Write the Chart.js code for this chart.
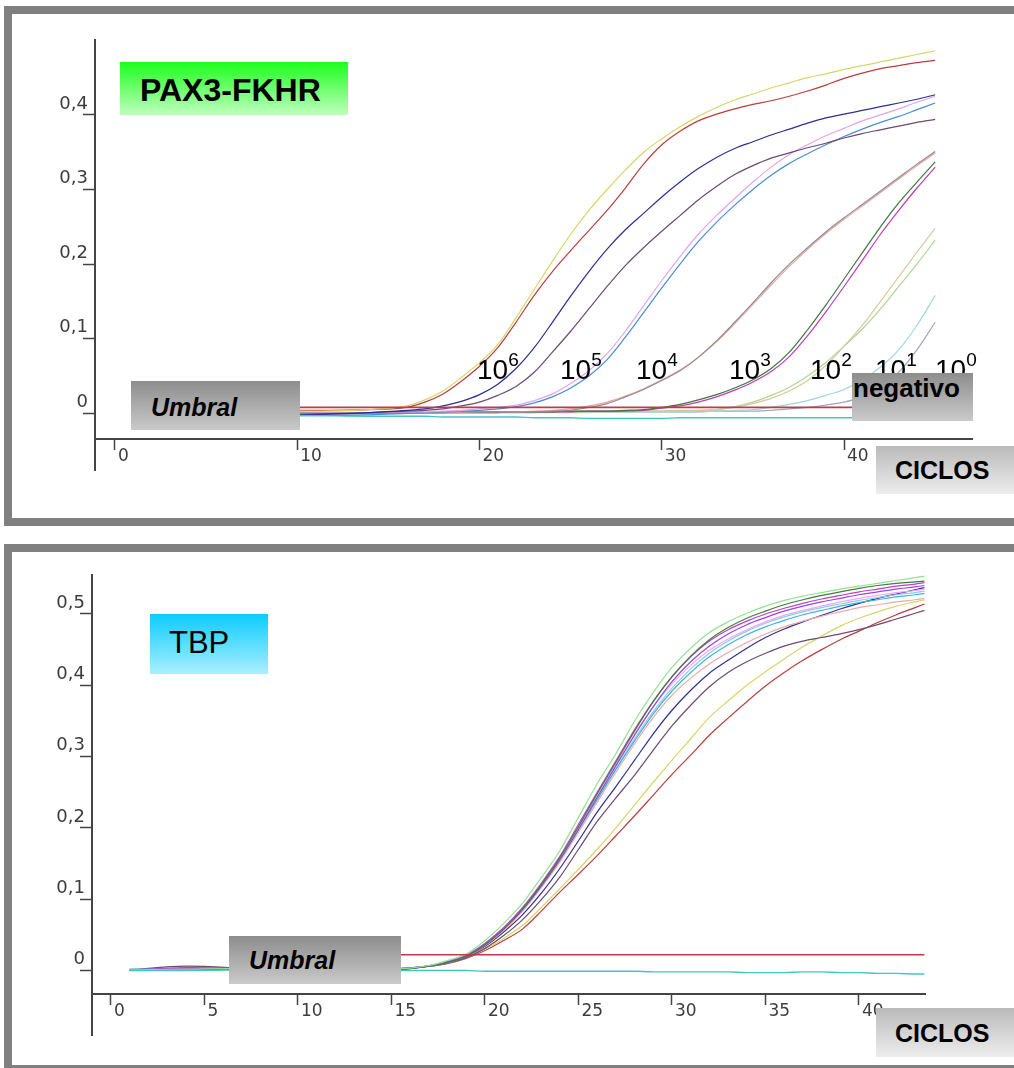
<!DOCTYPE html>
<html>
<head>
<meta charset="utf-8">
<script src="https://cdn.jsdelivr.net/npm/chart.js@4.4.1/dist/chart.umd.min.js"></script>
<style>
body{margin:0;width:1014px;height:1068px;overflow:hidden;background:#fff;position:relative;font-family:"Liberation Sans",Arial,sans-serif}
.panel{position:absolute;left:4px;width:1040px;border:8px solid #808080;box-sizing:border-box}
canvas{position:absolute;left:0}
.caja{position:absolute;box-sizing:border-box;white-space:nowrap;color:#000}
.gris{background:linear-gradient(#8d8d8d,#cacaca)}
.claro{background:linear-gradient(#bababa,#ededed)}
.exp{position:absolute;top:356px;font-size:28px;line-height:28px;color:#000;white-space:nowrap}
.exp span{font-size:19px;position:relative;top:-13px}
</style>
</head>
<body>
<div class="panel" style="top:6px;height:520px"></div>
<div class="panel" style="top:544px;height:529px"></div>

<canvas id="pax" width="1014" height="520" style="top:0"></canvas>
<canvas id="tbp" width="1014" height="520" style="top:540px"></canvas>

<div class="caja" style="left:120px;top:62px;width:228px;height:53px;line-height:57px;padding-left:20px;font-size:32px;font-weight:bold;background:linear-gradient(#1cff1c,#bfffbf)">PAX3-FKHR</div>
<div class="caja gris" style="left:131px;top:381px;width:169px;height:49px;line-height:52px;padding-left:20px;font-size:25px;font-weight:bold;font-style:italic">Umbral</div>
<div class="exp" style="left:477px">10<span>6</span></div>
<div class="exp" style="left:560px">10<span>5</span></div>
<div class="exp" style="left:636px">10<span>4</span></div>
<div class="exp" style="left:729px">10<span>3</span></div>
<div class="exp" style="left:810px">10<span>2</span></div>
<div class="exp" style="left:875px">10<span>1</span></div>
<div class="exp" style="left:935px">10<span>0</span></div>
<div class="caja gris" style="left:852px;top:373px;width:121px;height:48px;line-height:30px;padding-left:1px;font-size:26px;font-weight:bold">negativo</div>
<div class="caja claro" style="left:876px;top:446px;width:138px;height:48px;line-height:49px;padding-left:19px;font-size:25px;font-weight:bold">CICLOS</div>

<div class="caja" style="left:150px;top:614px;width:118px;height:60px;line-height:58px;padding-left:19px;font-size:31px;background:linear-gradient(#0cccff,#aaefff)">TBP</div>
<div class="caja gris" style="left:229px;top:936px;width:172px;height:48px;line-height:49px;padding-left:20px;font-size:25px;font-weight:bold;font-style:italic">Umbral</div>
<div class="caja claro" style="left:876px;top:1008px;width:138px;height:49px;line-height:50px;padding-left:19px;font-size:25px;font-weight:bold">CICLOS</div>

<script>
// ---- PAX3-FKHR: ciclos y fluorescencia de cada dilucion (dos replicas) ----
var ciclosPax = [1, 5, 10, 14, 16, 17, 18, 19, 20, 21, 22, 23, 24, 25, 26, 27, 28, 29, 30, 31, 32, 33, 34, 35, 36, 37, 38, 39, 40, 41, 42, 43, 44, 45];

var pax6a = [0.002, 0.003, 0.003, 0.005, 0.010, 0.018, 0.030, 0.048, 0.068, 0.092, 0.128, 0.166, 0.204, 0.240, 0.272, 0.300, 0.326, 0.350, 0.368, 0.384, 0.398, 0.410, 0.420, 0.428, 0.436, 0.443, 0.450, 0.455, 0.461, 0.466, 0.471, 0.476, 0.481, 0.486];
var pax6b = [0.004, 0.004, 0.004, 0.005, 0.008, 0.015, 0.026, 0.043, 0.063, 0.088, 0.122, 0.158, 0.190, 0.218, 0.245, 0.272, 0.302, 0.334, 0.360, 0.378, 0.392, 0.401, 0.408, 0.414, 0.419, 0.425, 0.432, 0.440, 0.449, 0.456, 0.462, 0.466, 0.470, 0.473];
var pax5a = [-0.003, -0.003, -0.002, 0.001, 0.004, 0.006, 0.010, 0.016, 0.025, 0.039, 0.060, 0.088, 0.122, 0.157, 0.190, 0.220, 0.246, 0.268, 0.290, 0.310, 0.328, 0.343, 0.355, 0.364, 0.373, 0.381, 0.389, 0.396, 0.401, 0.406, 0.411, 0.416, 0.421, 0.427];
var pax5b = [-0.002, -0.002, -0.001, 0.001, 0.003, 0.004, 0.006, 0.010, 0.015, 0.024, 0.036, 0.055, 0.082, 0.110, 0.140, 0.170, 0.198, 0.222, 0.244, 0.265, 0.286, 0.304, 0.320, 0.332, 0.342, 0.349, 0.356, 0.362, 0.369, 0.375, 0.380, 0.385, 0.390, 0.394];
var pax4a = [-0.004, -0.004, -0.003, -0.002, 0.000, 0.001, 0.002, 0.003, 0.004, 0.006, 0.009, 0.014, 0.022, 0.034, 0.050, 0.072, 0.102, 0.135, 0.168, 0.200, 0.230, 0.256, 0.279, 0.300, 0.319, 0.335, 0.348, 0.360, 0.371, 0.381, 0.390, 0.398, 0.407, 0.416];
var pax4b = [-0.001, -0.001, 0.000, 0.001, 0.002, 0.002, 0.003, 0.004, 0.006, 0.008, 0.011, 0.017, 0.026, 0.040, 0.057, 0.080, 0.110, 0.144, 0.178, 0.210, 0.240, 0.265, 0.288, 0.310, 0.330, 0.347, 0.360, 0.372, 0.382, 0.392, 0.400, 0.408, 0.417, 0.425];
var pax3a = [0.001, 0.001, 0.001, 0.000, 0.001, 0.001, 0.002, 0.002, 0.002, 0.002, 0.002, 0.002, 0.003, 0.004, 0.008, 0.013, 0.022, 0.032, 0.044, 0.057, 0.075, 0.097, 0.122, 0.148, 0.175, 0.200, 0.222, 0.243, 0.262, 0.280, 0.298, 0.316, 0.334, 0.351];
var pax3b = [-0.002, -0.002, -0.001, 0.000, 0.000, 0.001, 0.001, 0.001, 0.002, 0.002, 0.002, 0.003, 0.004, 0.006, 0.010, 0.015, 0.023, 0.033, 0.045, 0.058, 0.075, 0.096, 0.120, 0.146, 0.172, 0.197, 0.220, 0.241, 0.260, 0.278, 0.296, 0.314, 0.332, 0.349];
var pax2a = [0.000, -0.001, 0.000, 0.001, 0.001, 0.001, 0.001, 0.002, 0.002, 0.002, 0.002, 0.002, 0.002, 0.003, 0.003, 0.003, 0.004, 0.005, 0.008, 0.012, 0.018, 0.025, 0.034, 0.045, 0.060, 0.082, 0.112, 0.145, 0.180, 0.215, 0.250, 0.282, 0.310, 0.337];
var pax2b = [-0.002, -0.002, -0.001, 0.000, 0.000, 0.001, 0.001, 0.001, 0.001, 0.001, 0.002, 0.002, 0.002, 0.002, 0.003, 0.003, 0.003, 0.004, 0.007, 0.010, 0.015, 0.022, 0.031, 0.042, 0.056, 0.076, 0.104, 0.136, 0.170, 0.205, 0.240, 0.272, 0.302, 0.330];
var pax1a = [0.001, 0.001, 0.002, 0.001, 0.001, 0.001, 0.002, 0.002, 0.002, 0.002, 0.002, 0.002, 0.002, 0.002, 0.002, 0.002, 0.002, 0.003, 0.003, 0.003, 0.004, 0.005, 0.008, 0.013, 0.020, 0.030, 0.044, 0.064, 0.090, 0.118, 0.150, 0.183, 0.216, 0.248];
var pax1b = [-0.001, -0.001, 0.000, 0.000, 0.001, 0.001, 0.001, 0.001, 0.001, 0.001, 0.002, 0.002, 0.002, 0.002, 0.002, 0.002, 0.003, 0.003, 0.003, 0.004, 0.004, 0.005, 0.009, 0.015, 0.024, 0.035, 0.050, 0.068, 0.090, 0.113, 0.140, 0.170, 0.200, 0.232];
var pax0a = [-0.002, -0.002, -0.001, -0.001, 0.000, 0.000, 0.000, 0.001, 0.001, 0.001, 0.001, 0.001, 0.001, 0.001, 0.001, 0.002, 0.002, 0.002, 0.002, 0.002, 0.002, 0.003, 0.004, 0.005, 0.008, 0.012, 0.017, 0.024, 0.032, 0.045, 0.062, 0.085, 0.118, 0.158];
var pax0b = [0.000, 0.000, 0.000, 0.001, 0.001, 0.001, 0.001, 0.001, 0.001, 0.001, 0.001, 0.001, 0.002, 0.002, 0.002, 0.002, 0.002, 0.002, 0.002, 0.002, 0.002, 0.003, 0.003, 0.003, 0.004, 0.006, 0.008, 0.011, 0.015, 0.022, 0.035, 0.055, 0.085, 0.122];
var paxNeg = [-0.002, -0.003, -0.003, -0.004, -0.004, -0.004, -0.005, -0.005, -0.005, -0.005, -0.005, -0.006, -0.006, -0.006, -0.007, -0.007, -0.007, -0.007, -0.007, -0.006, -0.006, -0.006, -0.006, -0.006, -0.006, -0.006, -0.006, -0.006, -0.006, -0.006, -0.006, -0.006, -0.006, -0.006];
var umbralCiclosPax = [1, 45];
var umbralPax = [0.008, 0.008];

var xTicksPax = [0, 10, 20, 30, 40];
var xLabelsPax = ['0', '10', '20', '30', '40'];
var yTicksPax = [0, 0.1, 0.2, 0.3, 0.4];
var yLabelsPax = ['0', '0,1', '0,2', '0,3', '0,4'];

// ---- TBP (gen control) ----
var ciclosTbp = [1, 4, 8, 12, 15, 17, 18, 19, 20, 21, 22, 23, 24, 25, 26, 27, 28, 29, 30, 31, 32, 33, 34, 35, 36, 37, 38, 39, 40, 41, 42, 43, 43.5];

var tbpVerdeClaro = [0.001, 0.002, 0.003, 0.002, 0.002, 0.007, 0.014, 0.023, 0.042, 0.066, 0.094, 0.130, 0.168, 0.215, 0.262, 0.304, 0.350, 0.390, 0.425, 0.452, 0.474, 0.489, 0.501, 0.511, 0.519, 0.525, 0.530, 0.535, 0.539, 0.543, 0.547, 0.551, 0.553];
var tbpMagenta = [0.000, 0.003, 0.002, 0.001, 0.002, 0.006, 0.012, 0.021, 0.038, 0.060, 0.088, 0.122, 0.160, 0.205, 0.250, 0.294, 0.338, 0.378, 0.412, 0.440, 0.462, 0.478, 0.490, 0.500, 0.508, 0.515, 0.521, 0.526, 0.531, 0.535, 0.539, 0.542, 0.544];
var tbpVerde = [0.001, 0.001, 0.002, 0.002, 0.001, 0.006, 0.012, 0.020, 0.036, 0.058, 0.086, 0.120, 0.158, 0.202, 0.248, 0.292, 0.336, 0.377, 0.412, 0.441, 0.464, 0.481, 0.494, 0.504, 0.513, 0.520, 0.526, 0.531, 0.536, 0.540, 0.543, 0.545, 0.546];
var tbpVioleta = [0.000, 0.004, 0.003, 0.002, 0.002, 0.006, 0.011, 0.020, 0.036, 0.058, 0.085, 0.118, 0.155, 0.198, 0.243, 0.287, 0.330, 0.370, 0.405, 0.433, 0.455, 0.472, 0.485, 0.495, 0.504, 0.511, 0.517, 0.522, 0.527, 0.531, 0.535, 0.538, 0.540];
var tbpRosa = [0.001, 0.001, 0.002, 0.001, 0.002, 0.006, 0.012, 0.021, 0.037, 0.059, 0.086, 0.120, 0.157, 0.200, 0.245, 0.289, 0.332, 0.370, 0.402, 0.428, 0.449, 0.465, 0.478, 0.489, 0.498, 0.505, 0.511, 0.517, 0.522, 0.526, 0.530, 0.533, 0.535];
var tbpCian = [0.002, 0.001, 0.002, 0.001, 0.002, 0.007, 0.013, 0.022, 0.038, 0.060, 0.087, 0.120, 0.156, 0.198, 0.240, 0.282, 0.322, 0.360, 0.392, 0.418, 0.440, 0.457, 0.471, 0.482, 0.491, 0.499, 0.505, 0.511, 0.516, 0.520, 0.524, 0.527, 0.529];
var tbpCeleste = [0.001, 0.002, 0.001, 0.001, 0.002, 0.006, 0.012, 0.021, 0.037, 0.058, 0.085, 0.118, 0.155, 0.197, 0.240, 0.283, 0.325, 0.363, 0.396, 0.423, 0.445, 0.462, 0.476, 0.487, 0.496, 0.503, 0.509, 0.514, 0.519, 0.523, 0.527, 0.530, 0.532];
var tbpSalmon = [0.001, 0.001, 0.002, 0.001, 0.002, 0.006, 0.011, 0.020, 0.035, 0.056, 0.083, 0.116, 0.152, 0.194, 0.236, 0.278, 0.318, 0.355, 0.386, 0.410, 0.430, 0.446, 0.460, 0.472, 0.482, 0.490, 0.497, 0.503, 0.509, 0.513, 0.517, 0.520, 0.522];
var tbpAzul = [0.000, 0.001, 0.002, 0.002, 0.001, 0.006, 0.011, 0.020, 0.034, 0.054, 0.078, 0.108, 0.143, 0.182, 0.222, 0.258, 0.295, 0.332, 0.365, 0.393, 0.417, 0.435, 0.452, 0.467, 0.479, 0.489, 0.498, 0.507, 0.515, 0.522, 0.528, 0.534, 0.537];
var tbpMorado = [0.001, 0.006, 0.002, 0.001, 0.002, 0.006, 0.010, 0.018, 0.031, 0.049, 0.071, 0.099, 0.131, 0.170, 0.209, 0.242, 0.274, 0.309, 0.343, 0.372, 0.398, 0.418, 0.433, 0.445, 0.455, 0.462, 0.467, 0.472, 0.478, 0.485, 0.493, 0.501, 0.505];
var tbpAmarillo = [0.002, 0.001, 0.002, 0.002, 0.002, 0.006, 0.010, 0.018, 0.030, 0.045, 0.063, 0.088, 0.115, 0.142, 0.170, 0.200, 0.232, 0.264, 0.295, 0.325, 0.355, 0.378, 0.400, 0.419, 0.437, 0.454, 0.469, 0.483, 0.494, 0.503, 0.511, 0.517, 0.520];
var tbpRojo = [0.001, 0.002, 0.001, 0.002, 0.002, 0.006, 0.010, 0.017, 0.028, 0.042, 0.058, 0.083, 0.110, 0.135, 0.161, 0.189, 0.217, 0.246, 0.275, 0.302, 0.330, 0.354, 0.377, 0.399, 0.418, 0.435, 0.450, 0.464, 0.476, 0.488, 0.499, 0.509, 0.514];
var tbpNeg = [0.000, 0.000, 0.001, 0.001, 0.000, 0.000, 0.000, 0.000, -0.001, -0.001, -0.001, -0.001, -0.001, -0.001, -0.001, -0.001, -0.001, -0.002, -0.002, -0.002, -0.002, -0.002, -0.003, -0.003, -0.003, -0.002, -0.002, -0.003, -0.003, -0.004, -0.004, -0.005, -0.005];
var umbralCiclosTbp = [10, 43.5];
var umbralTbp = [0.022, 0.022];

var xTicksTbp = [0, 5, 10, 15, 20, 25, 30, 35, 40];
var xLabelsTbp = ['0', '5', '10', '15', '20', '25', '30', '35', '40'];
var yTicksTbp = [0, 0.1, 0.2, 0.3, 0.4, 0.5];
var yLabelsTbp = ['0', '0,1', '0,2', '0,3', '0,4', '0,5'];

Chart.defaults.font.family = 'DejaVu Sans';

function serie(ciclos, valores, color, ancho) {
  return {
    data: ciclos.map(function (c, i) { return {x: c, y: valores[i]}; }),
    borderColor: color,
    borderWidth: ancho || 1.2,
    pointRadius: 0,
    fill: false,
    cubicInterpolationMode: 'monotone'
  };
}

function opciones(cfg) {
  return {
    responsive: false,
    animation: false,
    events: [],
    layout: {padding: cfg.padding},
    plugins: {legend: {display: false}, tooltip: {enabled: false}},
    scales: {
      x: {
        type: 'linear',
        position: {y: cfg.ejeX},
        bounds: 'data',
        min: cfg.xMin,
        max: cfg.xMax,
        afterBuildTicks: function (eje) { eje.ticks = cfg.xTicks.map(function (v) { return {value: v}; }); },
        ticks: {
          autoSkip: false, maxRotation: 0, align: 'start', labelOffset: 3, padding: -3,
          color: '#3c3c3c', font: {size: 17},
          callback: function (v, i) { return cfg.xLabels[i]; }
        },
        grid: {drawOnChartArea: false, tickLength: 10, tickColor: '#444', tickWidth: 1.5},
        border: {color: '#444', width: 2}
      },
      y: {
        type: 'linear',
        position: 'left',
        bounds: 'data',
        min: cfg.yMin,
        max: cfg.yMax,
        afterBuildTicks: function (eje) { eje.ticks = cfg.yTicks.map(function (v) { return {value: v}; }); },
        afterFit: function (eje) { eje.width = cfg.anchoY; },
        ticks: {
          autoSkip: false, labelOffset: -11, padding: -5,
          color: '#3c3c3c', font: {size: 18},
          callback: function (v, i) { return cfg.yLabels[i]; }
        },
        grid: {drawOnChartArea: false, tickLength: 12, tickColor: '#444', tickWidth: 1.5},
        border: {color: '#444', width: 2}
      }
    }
  };
}

// grafico superior
new Chart(document.getElementById('pax'), {
  type: 'line',
  data: {
    datasets: [
      serie(umbralCiclosPax, umbralPax, '#c23a4a', 1.6),
      serie(ciclosPax, paxNeg, '#45c4c4', 1.4),
      serie(ciclosPax, pax6a, '#d6d66c'),
      serie(ciclosPax, pax6b, '#b8403c'),
      serie(ciclosPax, pax5a, '#2e2e96'),
      serie(ciclosPax, pax5b, '#6e4a72'),
      serie(ciclosPax, pax4b, '#e4a4f0'),
      serie(ciclosPax, pax4a, '#4a8ed0'),
      serie(ciclosPax, pax3a, '#8e8e8e'),
      serie(ciclosPax, pax3b, '#f0a4a4'),
      serie(ciclosPax, pax2a, '#3c783c'),
      serie(ciclosPax, pax2b, '#c03ac0'),
      serie(ciclosPax, pax1a, '#d8c8a0'),
      serie(ciclosPax, pax1b, '#aed690'),
      serie(ciclosPax, pax0a, '#9edad4'),
      serie(ciclosPax, pax0b, '#a4a4c8')
    ]
  },
  options: opciones({
    padding: {left: 0, top: 40, right: 42, bottom: 50},
    anchoY: 95,
    xMin: -1.097, xMax: 47.02, ejeX: -0.0345,
    yMin: -0.076, yMax: 0.5004,
    xTicks: xTicksPax, xLabels: xLabelsPax,
    yTicks: yTicksPax, yLabels: yLabelsPax
  })
});

// grafico inferior
new Chart(document.getElementById('tbp'), {
  type: 'line',
  data: {
    datasets: [
      serie(umbralCiclosTbp, umbralTbp, '#c23a4a', 1.6),
      serie(ciclosTbp, tbpNeg, '#45c4c4', 1.4),
      serie(ciclosTbp, tbpVerdeClaro, '#96e096'),
      serie(ciclosTbp, tbpVerde, '#3c803c'),
      serie(ciclosTbp, tbpMagenta, '#c83ac8'),
      serie(ciclosTbp, tbpVioleta, '#9048e0'),
      serie(ciclosTbp, tbpRosa, '#f0a8f0'),
      serie(ciclosTbp, tbpCian, '#3cb8d4'),
      serie(ciclosTbp, tbpCeleste, '#92c8f0'),
      serie(ciclosTbp, tbpSalmon, '#f0a8a8'),
      serie(ciclosTbp, tbpAzul, '#2e2e96'),
      serie(ciclosTbp, tbpMorado, '#6e4a72'),
      serie(ciclosTbp, tbpAmarillo, '#d6d66c'),
      serie(ciclosTbp, tbpRojo, '#b8403c')
    ]
  },
  options: opciones({
    padding: {left: 0, top: 35, right: 89, bottom: 25},
    anchoY: 92,
    xMin: -1.016, xMax: 43.53, ejeX: -0.033,
    yMin: -0.0905, yMax: 0.5547,
    xTicks: xTicksTbp, xLabels: xLabelsTbp,
    yTicks: yTicksTbp, yLabels: yLabelsTbp
  })
});
</script>
</body>
</html>
